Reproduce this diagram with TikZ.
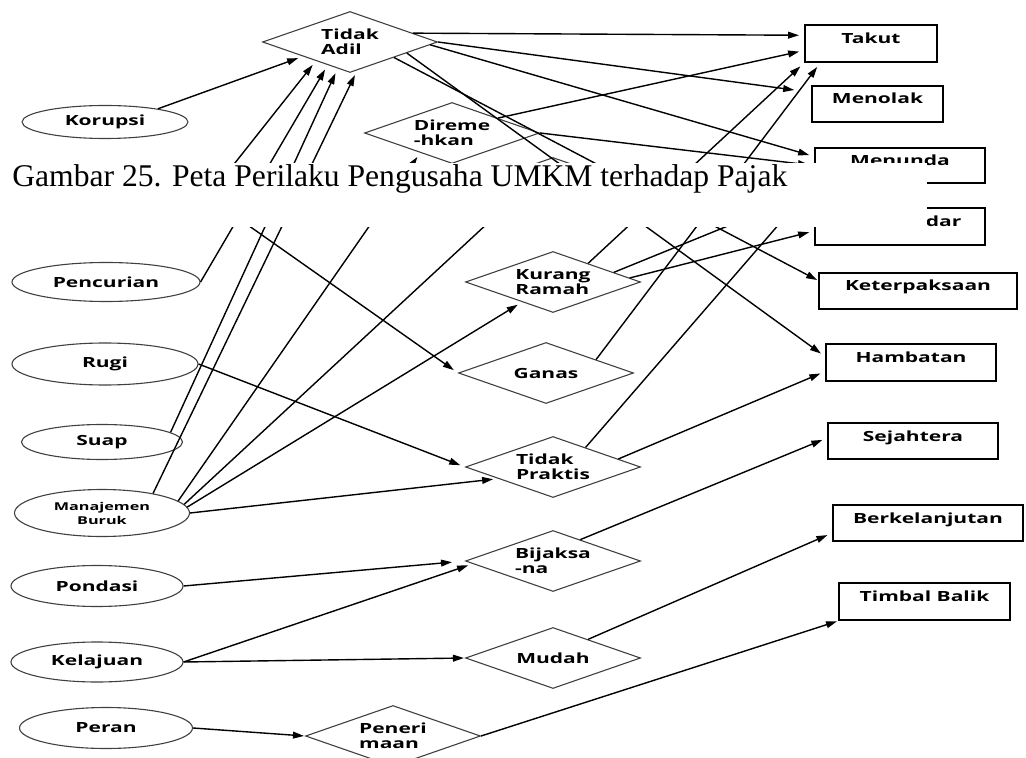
\documentclass[tikz,border=0pt]{standalone}
\usepackage{fontspec}
\usepackage{tikz}
\usetikzlibrary{arrows.meta,shapes.geometric}
\newfontfamily\lblfont[FakeStretch=1.5]{Open Sans}
\newfontfamily\gbrfont{Liberation Serif}
\newcommand{\lblsz}{\lblfont\bfseries\fontsize{7pt}{7.5pt}\selectfont}
\newcommand{\lblsmall}{\lblfont\bfseries\fontsize{5.4pt}{7pt}\selectfont}
\tikzset{
  cause/.style={ellipse,draw=black!75,line width=0.55pt,inner sep=0pt,font=\lblsz},
  attitude/.style={diamond,aspect=2.87,draw=black!75,line width=0.55pt,inner sep=0pt,
    minimum width=87.5pt,minimum height=30.5pt,align=left,font=\lblsz},
  effect/.style={rectangle,draw=black,line width=1pt,inner sep=0pt,minimum height=18.5pt,
    text height=5.5pt,text depth=5.5pt,font=\lblsz},
  arr/.style={-{Triangle[length=5.5pt,width=3.4pt]},line width=0.7pt,shorten >=2.5pt},
}
\begin{document}
\begin{tikzpicture}[x=0.5pt,y=-0.5pt]
  \useasboundingbox (0,0) rectangle (1026,758);
  \node[cause,minimum width=83pt,minimum height=16.5pt] (kor) at (105,122) {Korupsi};
  \coordinate (hid) at (208,197);
  \node[cause,minimum width=94pt,minimum height=19.5pt] (pen) at (106,282) {Pencurian};
  \node[cause,minimum width=93pt,minimum height=21pt] (rug) at (105,364) {Rugi};
  \node[cause,minimum width=80.5pt,minimum height=17.5pt] (sua) at (102,442) {Suap};
  \node[cause,minimum width=87.5pt,minimum height=23.5pt,align=center,font=\lblsmall] (man) at (102,513) {Manajemen\\Buruk};
  \node[cause,minimum width=86pt,minimum height=20.5pt] (pon) at (97,586) {Pondasi};
  \node[cause,minimum width=86pt,minimum height=20pt] (kel) at (97,662) {Kelajuan};
  \node[cause,minimum width=86.5pt,minimum height=20.5pt] (per) at (106,728) {Peran};

  \node[attitude] (tadil) at (350,42) {Tidak\\Adil};
  \node[attitude] (drm) at (452,133) {Direme\\-hkan};
  \node[attitude] (hdn) at (553,188) {};
  \node[attitude] (krg) at (553,282) {Kurang\\Ramah};
  \node[attitude] (gns) at (546,373) {Ganas};
  \node[attitude] (tpr) at (553,467) {Tidak\\Praktis};
  \node[attitude] (bjk) at (553,561) {Bijaksa\\-na};
  \node[attitude] (mdh) at (553,658) {Mudah};
  \node[attitude] (pnr) at (393,736) {Peneri\\maan};

  \node[effect,minimum width=66pt] (tkt) at (871,43.5) {Takut};
  \node[effect,minimum width=65.5pt,minimum height=18pt] (mnl) at (877.5,104) {Menolak};
  \node[effect,minimum width=85pt,minimum height=17.5pt] (mnd) at (900,165.5) {Menunda};
  \node[effect,minimum width=85pt] (sdr) at (900,226.5) {Tidak Sadar};
  \node[effect,minimum width=99pt,minimum height=18pt] (ktp) at (918,291) {Keterpaksaan};
  \node[effect,minimum width=85pt] (hmb) at (911,362.5) {Hambatan};
  \node[effect,minimum width=85pt,minimum height=18pt] (sjh) at (913,441) {Sejahtera};
  \node[effect,minimum width=95pt,minimum height=18pt] (brk) at (928,523) {Berkelanjutan};
  \node[effect,minimum width=85.5pt] (tbb) at (924.5,601.5) {Timbal Balik};

  \draw[arr] (kor.14) -- (tadil.197);
  \draw[arr] (hid) -- (tadil.209);
  \draw[arr] (pen.east) -- (tadil.226);
  \draw[arr] (sua.8) -- (tadil.245);
  \draw[arr] (man.21) -- (tadil.284);
  \draw[arr] (hid) -- (gns.west);
  \draw[arr] (rug.east) -- (tpr.west);
  \draw[arr] (man.9) -- (drm.212);
  \draw[arr] (man.6) -- (hdn.south west);
  \draw[arr] (man.4) -- (krg.213);
  \draw[arr] (man.east) -- (tpr.192);
  \draw[arr,shorten >=6.5pt] (pon.east) -- (bjk.west);
  \draw[arr] (kel.east) -- (bjk.182);
  \draw[arr,shorten >=0.5pt] (kel.east) -- (mdh.west);
  \draw[arr,shorten >=0.5pt] (per.east) -- (pnr.west);

  \draw[arr] (tadil.8) -- (tkt.173);
  \draw[arr,shorten >=8.5pt] (tadil.east) -- (mnl.170);
  \draw[arr] (tadil.-2) -- (mnd.174);
  \draw[arr,shorten >=0.5pt] (tadil.south east) -- (ktp.174);
  \draw[arr] (tadil.-11) -- (hmb.176);
  \draw[arr] (drm.18) -- (tkt.186);
  \draw[arr] (drm.east) -- (mnd.west);
  \draw[arr] (krg.28) -- (tkt.south west);
  \draw[arr] (krg.9) -- (mnd.195);
  \draw[arr] (krg.3) -- (sdr.183);
  \draw[arr] (gns.15) -- (tkt.201);
  \draw[arr] (tpr.31) -- (mnd.192);
  \draw[arr] (tpr.7) -- (hmb.186);
  \draw[arr] (bjk.38) -- (sjh.178);
  \draw[arr] (mdh.28) -- (brk.186);
  \draw[arr,shorten >=0.5pt] (pnr.east) -- (tbb.south west);

  \fill[white] (0,163) rectangle (927,227);
  \node[anchor=base west,inner sep=0pt,font=\gbrfont\fontsize{15.8pt}{18pt}\selectfont] (cap) at (12,187)
    {Gambar 25. Peta Perilaku Pengusaha UMKM terhadap Pajak};
\end{tikzpicture}
\end{document}
